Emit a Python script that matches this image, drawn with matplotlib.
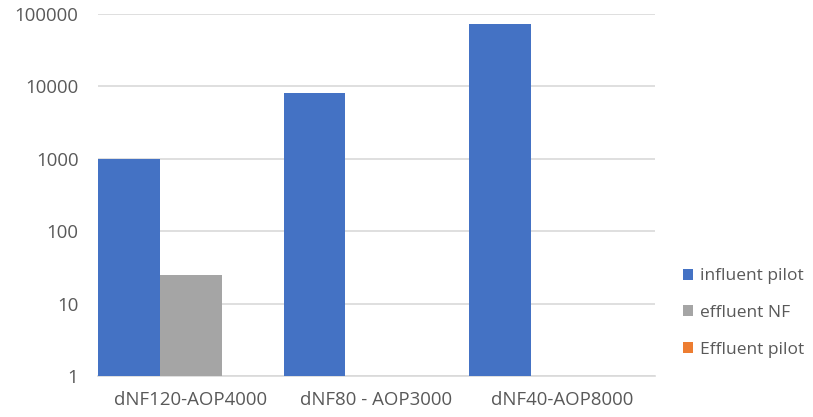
import numpy as np
import matplotlib.pyplot as plt

plt.rcParams['font.family'] = ['Open Sans', 'DejaVu Sans']

categories = ['dNF120-AOP4000', 'dNF80 - AOP3000', 'dNF40-AOP8000']
influent_pilot = [1000, 8000, 73000]
effluent_nf = [25, np.nan, np.nan]
effluent_pilot = [np.nan, np.nan, np.nan]
series_names = ['influent pilot', 'effluent NF', 'Effluent pilot']
colors = ['#4472C4', '#A5A5A5', '#ED7D31']

fig = plt.figure(figsize=(8.13, 4.17), dpi=100)
ax = fig.add_axes([0.1205, 0.0983, 0.685, 0.868])

x = np.arange(len(categories))
w = 1 / 3
for i, (vals, name, c) in enumerate(zip([influent_pilot, effluent_nf, effluent_pilot], series_names, colors)):
    ax.bar(x - 0.5 + w * i, vals, width=w, align='edge', color=c, label=name, zorder=3)

ax.set_yscale('log')
ax.set_ylim(1, 100000)
ax.set_xlim(-0.5, len(categories) - 0.5)
ax.set_yticks([1, 10, 100, 1000, 10000, 100000])
ax.set_yticklabels(['1', '10', '100', '1000', '10000', '100000'])
ax.yaxis.set_minor_locator(plt.NullLocator())
ax.set_xticks(x)
ax.set_xticklabels(categories)
ax.tick_params(length=0, labelsize=13.4, labelcolor='#595959')
ax.tick_params(axis='x', pad=11)
ax.tick_params(axis='y', pad=14)
ax.grid(axis='y', color='#D9D9D9', linewidth=1.2, zorder=0)
for s in ['top', 'right', 'left']:
    ax.spines[s].set_visible(False)
ax.spines['bottom'].set_color('#D9D9D9')
ax.spines['bottom'].set_linewidth(1.2)

ax.legend(loc='center left', bbox_to_anchor=(0.840, 0.2494), bbox_transform=fig.transFigure,
          frameon=False, fontsize=12.5, borderpad=0, borderaxespad=0,
          handlelength=0.6, handleheight=0.6, handletextpad=0.4, labelspacing=1.2,
          labelcolor='#595959')

fig.savefig('out.png', dpi=100)
